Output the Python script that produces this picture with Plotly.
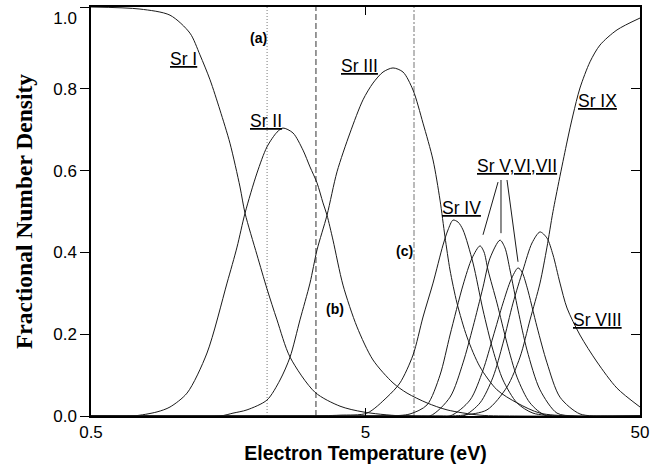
import math
import plotly.graph_objects as go

# ---- data (electron temperature in eV, fractional density) ----
T_SR1 = [0.5, 0.754, 0.970, 1.147, 1.247, 1.357, 1.475, 1.604, 1.745, 1.820, 2.012, 2.188, 2.380,
         2.655, 3.273, 4.037, 4.896, 6.849, 50]
Y_SR1 = [1.0, 0.995, 0.980, 0.936, 0.883, 0.822, 0.748, 0.667, 0.560, 0.496, 0.394, 0.311, 0.235,
         0.144, 0.058, 0.024, 0.010, 0.0, 0.0]

T_SR2 = [0.5, 0.711, 0.870, 0.970, 1.119, 1.323, 1.565, 1.702, 1.820, 2.012, 2.188, 2.380, 2.502,
         2.722, 2.960, 3.139, 3.329, 3.501, 3.620, 3.807, 4.140, 4.655, 5.325, 6.297, 7.083, 8.375,
         9.907, 13.065, 18.277, 50]
Y_SR2 = [0.0, 0.0, 0.010, 0.022, 0.056, 0.154, 0.325, 0.413, 0.496, 0.594, 0.658, 0.694, 0.704,
         0.692, 0.650, 0.609, 0.570, 0.521, 0.491, 0.430, 0.320, 0.218, 0.137, 0.081, 0.056, 0.032,
         0.015, 0.002, 0.0, 0.0]

T_SR3 = [0.5, 1.475, 1.645, 1.851, 2.188, 2.441, 2.655, 2.886, 3.139, 3.329, 3.620, 3.937, 4.390,
         4.896, 5.325, 5.792, 6.297, 6.849, 7.448, 8.100, 8.809, 9.341, 9.741, 10.159, 10.773,
         11.717, 13.065, 15.068, 17.823, 21.611, 27.795, 50]
Y_SR3 = [0.0, 0.0, 0.007, 0.015, 0.039, 0.088, 0.144, 0.235, 0.325, 0.406, 0.491, 0.597, 0.692,
         0.773, 0.814, 0.841, 0.851, 0.841, 0.797, 0.716, 0.626, 0.528, 0.438, 0.357, 0.276,
         0.193, 0.120, 0.064, 0.032, 0.007, 0.0, 0.0]

T_SR4 = [0.5, 3.0, 4.037, 5.063, 5.988, 6.678, 7.448, 8.100, 8.809, 9.579, 9.990, 10.418, 10.87,
         11.330, 12.321, 13.398, 14.570, 15.844, 17.823, 20.380, 25.557, 50]
Y_SR4 = [0.0, 0.0, 0.002, 0.007, 0.046, 0.081, 0.149, 0.242, 0.325, 0.418, 0.455, 0.479, 0.474,
         0.455, 0.374, 0.259, 0.161, 0.088, 0.032, 0.007, 0.0, 0.0]

T_SR5 = [0.5, 6.0, 7.262, 8.375, 9.341, 10.159, 11.330, 12.22, 13.065, 13.51, 13.971, 15.068,
         16.386, 17.823, 19.873, 22.916, 50]
Y_SR5 = [0.0, 0.0, 0.005, 0.027, 0.100, 0.198, 0.320, 0.386, 0.416, 0.401, 0.357, 0.276,
         0.178, 0.095, 0.032, 0.0, 0.0]

T_SR6 = [0.5, 7.0, 8.590, 10.159, 11.330, 12.321, 13.398, 14.21, 15.451, 16.11, 16.802, 17.972,
         19.382, 21.611, 24.922, 28.98, 50]
Y_SR6 = [0.0, 0.0, 0.0, 0.046, 0.130, 0.218, 0.315, 0.386, 0.430, 0.411, 0.357, 0.259,
         0.161, 0.064, 0.007, 0.0, 0.0]

T_SR7 = [0.5, 8.0, 10.159, 12.015, 13.398, 14.570, 15.844, 16.94, 17.972, 18.58, 19.382, 21.076,
         22.916, 25.557, 30.221, 38.0, 50]
Y_SR7 = [0.0, 0.0, 0.0, 0.039, 0.112, 0.193, 0.276, 0.333, 0.362, 0.352, 0.315, 0.218,
         0.130, 0.046, 0.005, 0.0, 0.0]

T_SR8 = [0.5, 9.0, 11.330, 13.065, 14.570, 15.844, 17.230, 18.742, 20.21, 21.611, 22.916, 24.100,
         25.557, 27.106, 30.221, 34.864, 41.236, 50]
Y_SR8 = [0.0, 0.0, 0.0, 0.032, 0.095, 0.178, 0.276, 0.357, 0.423, 0.450, 0.435, 0.394,
         0.325, 0.264, 0.198, 0.132, 0.068, 0.022]

T_SR9 = [0.5, 9.341, 11.330, 13.855, 16.386, 18.277, 19.873, 21.611, 22.916, 24.100,
         27.106, 28.502, 30.221, 32.881, 35.749, 41.236, 50]
Y_SR9 = [0.0, 0.0, 0.002, 0.015, 0.071, 0.144, 0.235, 0.325, 0.413, 0.500,
         0.670, 0.736, 0.802, 0.866, 0.907, 0.944, 0.973]

SERIES = [(T_SR1, Y_SR1), (T_SR2, Y_SR2), (T_SR3, Y_SR3), (T_SR4, Y_SR4), (T_SR5, Y_SR5),
          (T_SR6, Y_SR6), (T_SR7, Y_SR7), (T_SR8, Y_SR8), (T_SR9, Y_SR9)]

# species labels (text, T, fraction)
LABEL_TEXT = ["Sr I", "Sr II", "Sr III", "Sr IV", "Sr V,VI,VII", "Sr IX", "Sr VIII"]
LABEL_T = [1.082, 2.17, 4.77, 11.14, 17.82, 34.86, 34.86]
LABEL_Y = [0.873, 0.721, 0.856, 0.509, 0.611, 0.770, 0.235]

# pointer lines from "Sr V,VI,VII" to the peaks
POINTER_T = [[15.20, 13.398], [15.58, 15.58], [16.386, 17.972]]
POINTER_Y = [[0.572, 0.443], [0.577, 0.447], [0.577, 0.377]]

# marked temperatures (a), (b), (c)
MARK_T = [2.19, 3.30, 7.51]
MARK_DASH = ["1px,2px", "6px,3px", "6px,2px,2px,2px"]
MARK_COLOR = ["#777777", "#333333", "#777777"]
MARK_TEXT = ["(a)", "(b)", "(c)"]
MARK_TEXT_T = [2.03, 3.87, 6.96]
MARK_TEXT_Y = [0.924, 0.262, 0.403]

X_TICKS = [0.5, 5, 50]
X_TICKTEXT = ["0.5", "5", "50"]
Y_TICKS = [0.0, 0.2, 0.4, 0.6, 0.8, 1.0]
# the top label sits a little below the axis top in the reference
Y_TICKTEXT = ["0.0", "0.2", "0.4", "0.6", "0.8", "<br>1.0"]
Y_RANGE = [0.0, 1.0]

SANS = "Liberation Sans, Arial"
SERIF = "Liberation Serif, Times New Roman"

fig = go.Figure()

for t, c, d in zip(MARK_T, MARK_COLOR, MARK_DASH):
    fig.add_trace(go.Scatter(x=[t, t], y=Y_RANGE, mode="lines",
                             line=dict(color=c, width=1, dash=d),
                             showlegend=False, hoverinfo="skip"))

for t, y in SERIES:
    fig.add_trace(go.Scatter(x=t, y=y, mode="lines",
                             line=dict(color="#1a1a1a", width=1, shape="spline", smoothing=0.8),
                             showlegend=False, hoverinfo="skip"))

for pt, py in zip(POINTER_T, POINTER_Y):
    fig.add_trace(go.Scatter(x=pt, y=py, mode="lines",
                             line=dict(color="#1a1a1a", width=1),
                             showlegend=False, hoverinfo="skip"))

# invisible trace for the right-hand axis
fig.add_trace(go.Scatter(x=[X_TICKS[0]], y=[0], yaxis="y2", mode="markers",
                         marker=dict(opacity=0), showlegend=False, hoverinfo="skip"))

for txt, t, y in zip(LABEL_TEXT, LABEL_T, LABEL_Y):
    fig.add_annotation(x=math.log10(t), y=y, xref="x", yref="y", text="<u>" + txt + "</u>",
                       showarrow=False, font=dict(family=SANS, size=17.5, color="black"))

for txt, t, y in zip(MARK_TEXT, MARK_TEXT_T, MARK_TEXT_Y):
    fig.add_annotation(x=math.log10(t), y=y, xref="x", yref="y", text="<b>" + txt + "</b>",
                       showarrow=False, font=dict(family=SANS, size=14, color="black"))

fig.update_layout(
    width=658, height=465, autosize=False,
    margin=dict(l=91, r=18, t=7, b=49, autoexpand=False),
    paper_bgcolor="white", plot_bgcolor="white",
    xaxis=dict(type="log", range=[math.log10(X_TICKS[0]), math.log10(X_TICKS[-1])],
               tickvals=X_TICKS, ticktext=X_TICKTEXT, ticks="inside", ticklen=8,
               tickcolor="black", mirror="ticks", showline=True, linewidth=1.5, linecolor="black",
               showgrid=False, zeroline=False, ticklabeloverflow="allow", automargin=False,
               tickfont=dict(family=SANS, size=17, color="black"),
               title=dict(text="<b>Electron Temperature (eV)</b>", standoff=4,
                          font=dict(family=SANS, size=19.5, color="black"))),
    yaxis=dict(range=Y_RANGE, tickvals=Y_TICKS, ticktext=Y_TICKTEXT, ticks="outside", ticklen=9,
               tickcolor="black", mirror=True, showline=True, linewidth=1.5, linecolor="black",
               showgrid=False, zeroline=False, ticklabeloverflow="allow", automargin=False,
               tickfont=dict(family=SANS, size=17, color="black"),
               title=dict(text="<b>Fractional Number Density</b>", standoff=14,
                          font=dict(family=SERIF, size=23.5, color="black"))),
    yaxis2=dict(range=Y_RANGE, overlaying="y", side="right", anchor="x", automargin=False,
                tickvals=Y_TICKS[1:-1], ticks="inside", ticklen=9, tickcolor="black",
                showticklabels=False, showline=False, showgrid=False, zeroline=False),
)

fig.write_html("out.html")
